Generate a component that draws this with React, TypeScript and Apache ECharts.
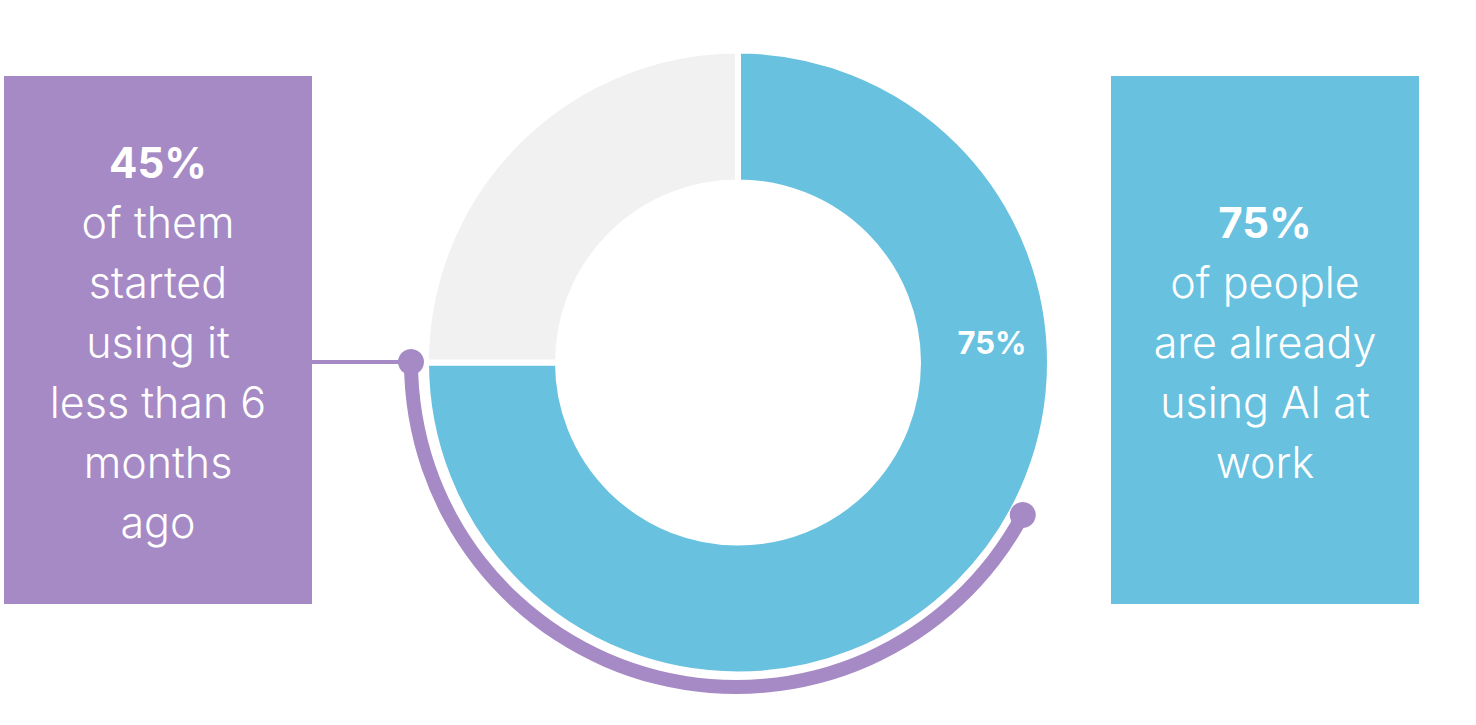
import React, { useEffect, useRef } from "react";
import * as echarts from "echarts";

// ---- data ----
const sliceNames = ["Using AI at work", "Not using AI"];
const sliceValues = [75, 25];
const arcNames = ["Started < 6 months ago", "rest"];
const arcValues = [42.2, 57.8];
const leftHeadline = "45%";
const leftLines = ["of them", "started", "using it", "less than 6", "months", "ago"];
const rightHeadline = "75%";
const rightLines = ["of people", "are already", "using AI at", "work"];

// ---- styles / geometry ----
const BLUE = "#67C1DF";
const GREY = "#F1F1F1";
const PURPLE = "#A68AC5";
const FONT = "Inter";
const donutCenter = [738, 362.5];
const arcCenter = [736, 362];
const arcR = 325;
const arcWidth = 14;
const arcStartDeg = 180;

export default function App() {
  const ref = useRef<HTMLDivElement>(null);
  useEffect(() => {
    if (!ref.current) return;
    const chart = echarts.init(ref.current, null, { renderer: "svg" });

    const arcTotal = arcValues.reduce((a, b) => a + b, 0);
    const arcSpan = (arcValues[0] / arcTotal) * 360;
    const endDeg = arcStartDeg + arcSpan;
    const startRad = (arcStartDeg * Math.PI) / 180;
    const endRad = (endDeg * Math.PI) / 180;
    const startDot = [arcCenter[0] + arcR * Math.cos(startRad), arcCenter[1] - arcR * Math.sin(startRad)];
    const endDot = [arcCenter[0] + arcR * Math.cos(endRad), arcCenter[1] - arcR * Math.sin(endRad)];

    const richBase = {
      h: { fontFamily: FONT, fontWeight: 700, fontSize: 42, lineHeight: 60, fill: "#fff", color: "#fff" },
      t: { fontFamily: FONT, fontWeight: 300, fontSize: 43, lineHeight: 60, fill: "#fff", color: "#fff" },
    };
    const mkText = (head: string, lines: string[]) =>
      [`{h|${head}}`, ...lines.map((l) => `{t|${l}}`)].join("\n");

    chart.setOption({
      animation: false,
      backgroundColor: "#ffffff",
      graphic: [
        { type: "rect", shape: { x: 4, y: 76, width: 308, height: 528 }, style: { fill: PURPLE }, z: 1 },
        { type: "rect", shape: { x: 1111, y: 76, width: 308, height: 528 }, style: { fill: BLUE }, z: 1 },
        {
          type: "text",
          x: 158,
          y: 342,
          z: 2,
          style: {
            text: mkText(leftHeadline, leftLines),
            rich: richBase,
            align: "center",
            verticalAlign: "middle",
            fill: "#fff",
          },
        },
        {
          type: "text",
          x: 1265,
          y: 342,
          z: 2,
          style: {
            text: mkText(rightHeadline, rightLines),
            rich: richBase,
            align: "center",
            verticalAlign: "middle",
            fill: "#fff",
          },
        },
        {
          type: "line",
          z: 5,
          shape: { x1: 312, y1: startDot[1], x2: startDot[0], y2: startDot[1] },
          style: { stroke: PURPLE, lineWidth: 4 },
        },
        { type: "circle", z: 6, shape: { cx: startDot[0], cy: startDot[1], r: 13 }, style: { fill: PURPLE } },
        { type: "circle", z: 6, shape: { cx: endDot[0], cy: endDot[1], r: 13 }, style: { fill: PURPLE } },
      ],
      series: [
        {
          type: "pie",
          center: donutCenter,
          radius: [180, 312],
          startAngle: 90,
          clockwise: true,
          silent: true,
          labelLine: { show: false },
          itemStyle: { borderColor: "#ffffff", borderWidth: 6 },
          label: { show: false },
          labelLayout: () => ({ x: 992, y: 342, align: "center", verticalAlign: "middle" }),
          data: sliceNames.map((n, i) => ({
            name: n,
            value: sliceValues[i],
            itemStyle: { color: i === 0 ? BLUE : GREY },
            label:
              i === 0
                ? {
                    show: true,
                    position: "inside",
                    formatter: "{d}%",
                    color: "#fff",
                    fontFamily: FONT,
                    fontWeight: 700,
                    fontSize: 31,
                  }
                : { show: false },
          })),
        },
        {
          type: "pie",
          center: arcCenter,
          radius: [arcR - arcWidth / 2, arcR + arcWidth / 2],
          startAngle: arcStartDeg,
          clockwise: false,
          silent: true,
          z: 3,
          label: { show: false },
          labelLine: { show: false },
          itemStyle: { borderWidth: 0 },
          data: arcNames.map((n, i) => ({
            name: n,
            value: arcValues[i],
            itemStyle: { color: i === 0 ? PURPLE : "rgba(0,0,0,0)" },
          })),
        },
      ],
    });
    return () => chart.dispose();
  }, []);
  return (
    <div
      ref={ref}
      style={{ position: "absolute", left: 0, top: 0, width: 1476, height: 725 }}
    />
  );
}
